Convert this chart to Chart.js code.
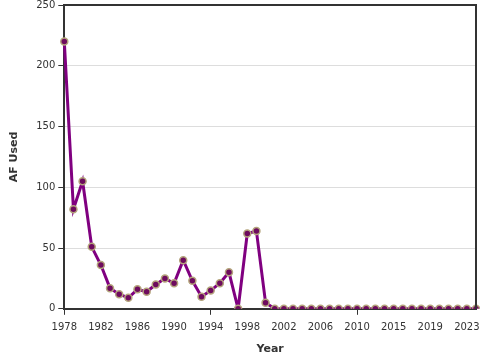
<!DOCTYPE html>
<html>
<head>
<meta charset="utf-8">
<script src="https://cdn.jsdelivr.net/npm/chart.js@4"></script>
<style>
  html, body { margin: 0; padding: 0; background: #fff; overflow: hidden; width: 480px; height: 360px; }
  #wrap { width: 500px; height: 364px; margin-top: -4px; }
</style>
</head>
<body>
<div id="wrap"><canvas id="chart" width="500" height="364"></canvas></div>
<script>
const years = [1978, 1979, 1980, 1981, 1982, 1983, 1984, 1985, 1986, 1987,
  1988, 1989, 1990, 1991, 1992, 1993, 1994, 1995, 1996, 1997,
  1998, 1999, 2000, 2001, 2002, 2003, 2004, 2005, 2006, 2007,
  2008, 2009, 2010, 2011, 2013, 2014, 2015, 2016, 2017, 2018,
  2019, 2020, 2021, 2022, 2023, 2024];
const afUsed = [220, 82, 105, 51, 36, 17, 12, 9, 16, 14,
  20, 25, 21, 40, 23, 10, 15, 21, 30, 0,
  62, 64, 5, 0, 0, 0, 0, 0, 0, 0,
  0, 0, 0, 0, 0, 0, 0, 0, 0, 0,
  0, 0, 0, 0, 0, 0];
const yTicks = [0, 50, 100, 150, 200, 250];

// dark frame on top and right of the plot
const frame = {
  id: 'frame',
  afterDraw(chart) {
    const a = chart.chartArea, c = chart.ctx;
    c.save();
    c.strokeStyle = '#333';
    c.lineWidth = 2;
    c.beginPath();
    c.moveTo(a.left, a.top);
    c.lineTo(a.right, a.top);
    c.lineTo(a.right, a.bottom);
    c.stroke();
    c.restore();
  }
};

const ctx = document.getElementById("chart").getContext("2d");
new Chart(ctx, {
  type: 'line',
  data: {
    labels: years.map(String),
    datasets: [{
      label: 'AF Used',
      data: afUsed,
      borderColor: '#800080',
      borderWidth: 3,
      tension: 0,
      pointRadius: 3.5,
      pointBorderWidth: 1.5,
      pointBackgroundColor: '#6e0b5e',
      pointBorderColor: '#b4a47c'
    }]
  },
  options: {
    responsive: false,
    animation: false,
    layout: { padding: { top: 5, right: 24, left: 4, bottom: 0 } },
    plugins: { legend: { display: false }, tooltip: { enabled: false } },
    scales: {
      x: {
        offset: false,
        grid: { display: true, drawOnChartArea: false, tickLength: 6, tickWidth: 1,
          tickColor: c => c.index % 4 === 0 ? '#333' : 'rgba(0,0,0,0)' },
        border: { color: '#333', width: 2 },
        ticks: {
          autoSkip: false, maxRotation: 0, color: '#333', padding: 7,
          font: { family: 'DejaVu Sans', size: 10 },
          callback: (v, i) => i % 4 === 0 ? years[i] : null
        },
        title: { display: true, text: 'Year', color: '#333',
          font: { family: 'DejaVu Sans', size: 11, weight: 'bold' }, padding: { top: 2 } }
      },
      y: {
        min: 0, max: 250,
        afterBuildTicks: s => { s.ticks = yTicks.map(v => ({ value: v })); },
        grid: { color: '#ddd', tickColor: '#333', tickLength: 6 },
        border: { color: '#333', width: 2 },
        ticks: { color: '#333', font: { family: 'DejaVu Sans', size: 10 }, padding: 3 },
        title: { display: true, text: 'AF Used', color: '#333',
          font: { family: 'DejaVu Sans', size: 11, weight: 'bold' }, padding: { bottom: 12 } }
      }
    }
  },
  plugins: [frame]
});
</script>
</body>
</html>
